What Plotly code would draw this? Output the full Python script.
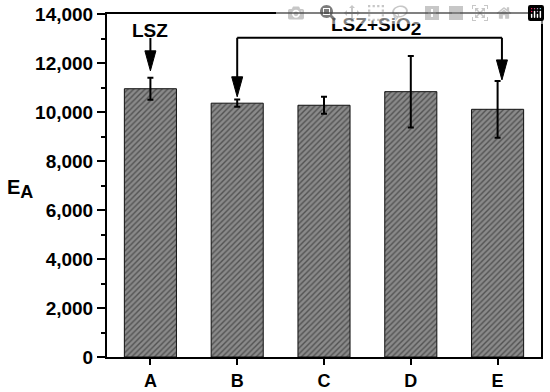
import plotly.graph_objects as go

categories = ["A", "B", "C", "D", "E"]
values = [10950, 10360, 10275, 10830, 10110]
errors = [450, 150, 350, 1460, 1160]
y_tickvals = [0, 2000, 4000, 6000, 8000, 10000, 12000, 14000]
y_ticktext = ["0", "2,000", "4,000", "6,000", "8,000", "10,000", "12,000", "14,000"]

# annotation pointers: x position (category index), arrow tip value, arrow start value
arrow_x = [0, 1, 4.05]
arrow_tip = [11680, 10620, 11310]
arrow_start = [13020, 13030, 13030]
bracket_y = 13030

FONT = "Liberation Sans, Arial, sans-serif"
FS = 19

fig = go.Figure()
fig.add_trace(go.Bar(
    x=list(range(len(categories))), y=values, width=0.6,
    marker=dict(
        color="#7a7a7a",
        line=dict(color="#111111", width=1),
        pattern=dict(shape="/", fgcolor="#1a1a1a", bgcolor="#8a8a8a", size=4, solidity=0.35),
    ),
    error_y=dict(type="data", array=errors, visible=True, color="black", thickness=2, width=3),
    showlegend=False,
))

# bracket for LSZ+SiO2 (B .. E)
fig.add_shape(type="line", x0=arrow_x[1], x1=arrow_x[2], y0=bracket_y, y1=bracket_y,
              xref="x", yref="y", line=dict(color="black", width=2))

for xa, tip, start in zip(arrow_x, arrow_tip, arrow_start):
    # shaft
    fig.add_shape(type="line", x0=xa, x1=xa, y0=start, y1=tip + 300, xref="x", yref="y",
                  line=dict(color="black", width=2))
    # narrow arrowhead, sized in pixels, anchored at the tip
    fig.add_shape(type="path", xref="x", yref="y", xsizemode="pixel", ysizemode="pixel",
                  xanchor=xa, yanchor=tip, path="M-5.5,20L5.5,20L0,0Z",
                  fillcolor="black", line=dict(color="black", width=1))

fig.add_annotation(x=0, y=13340, xref="x", yref="y", text="<b>LSZ</b>", showarrow=False,
                   font=dict(family=FONT, size=FS, color="black"))
fig.add_annotation(x=2.6, y=13470, xref="x", yref="y",
                   text="<b>LSZ+SiO<sub><span style='font-size:19px'>2</span></sub></b>", showarrow=False,
                   font=dict(family=FONT, size=FS, color="black"))
fig.add_annotation(x=-0.235, y=0.49, xref="paper", yref="paper", xanchor="left",
                   text="<b>E<sub><span style='font-size:18px'>A</span></sub></b>", showarrow=False,
                   font=dict(family=FONT, size=20, color="black"))

fig.update_layout(
    width=550, height=392,
    margin=dict(l=107, r=9, t=14, b=35),
    paper_bgcolor="white", plot_bgcolor="white",
    font=dict(family=FONT, size=FS, color="black"),
)
fig.update_xaxes(
    range=[-0.5, 4.5], automargin=False,
    tickvals=list(range(len(categories))), ticktext=categories,
    showline=True, linecolor="black", linewidth=2, mirror=True,
    ticks="outside", ticklen=6, tickwidth=2, tickcolor="black",
    tickfont=dict(family=FONT, size=FS - 1, color="black", weight="bold"),
    ticklabeloverflow="allow",
    showgrid=False, zeroline=False,
)
fig.update_yaxes(
    range=[0, 14000], tickvals=y_tickvals, ticktext=y_ticktext, automargin=False,
    showline=True, linecolor="black", linewidth=2, mirror=True,
    ticks="outside", ticklen=8, tickwidth=2, tickcolor="black",
    minor=dict(dtick=1000, ticks="outside", ticklen=4, tickwidth=2, tickcolor="black", showgrid=False),
    tickfont=dict(family=FONT, size=FS, color="black", weight="bold"),
    ticklabeloverflow="allow",
    showgrid=False, zeroline=False,
)

# remove the browser's default 8px body margin so the figure sits at the page corner
fig.write_html("out.html", post_script="document.body.style.margin='0px';")
